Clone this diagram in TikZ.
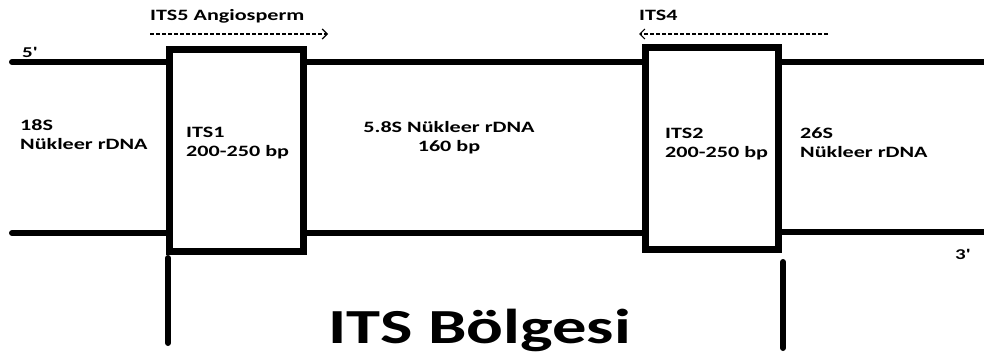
\documentclass[tikz,border=0pt]{standalone}
\usepackage{fontspec}
\setmainfont{Carlito}
\newfontfamily\widefont{Carlito}[FakeStretch=1.4]
\usetikzlibrary{arrows.meta}

\begin{document}
\begin{tikzpicture}[
    x=1pt, y=-1pt,
    region/.style={draw, rectangle, line width=7pt, inner sep=0pt},
    strand/.style={line width=6pt, line cap=round},
    bar/.style={line width=6pt, line cap=round},
    primer/.style={line width=1.2pt, dash pattern=on 4pt off 2pt, -{Straight Barb[length=5pt,width=10pt]}},
    lbl/.style={font=\widefont\bfseries\fontsize{15.8}{19}\selectfont, align=left, inner sep=0pt},
    ends/.style={font=\widefont\bfseries\fontsize{15}{17}\selectfont, inner sep=0pt},
    title/.style={font=\widefont\bfseries\fontsize{49}{55}\selectfont, inner sep=0pt}
]
\useasboundingbox (0,0) rectangle (984,361);

% ITS regions
\node[region, minimum width=134pt, minimum height=201pt] (its1) at (236,150.5) {};
\node[region, minimum width=133pt, minimum height=201pt] (its2) at (711.5,148.5) {};

% DNA strands
\coordinate (s5) at (12,62);
\coordinate (e5) at (984,62);
\coordinate (s3) at (12,233);
\coordinate (e3) at (984,232);
\draw[strand] (s5) -- (s5 -| its1.west);
\draw[strand] (its1.east |- s5) -- (its2.west |- s5);
\draw[strand] (its2.east |- e5) -- (e5);
\draw[strand] (s3) -- (s3 -| its1.west);
\draw[strand] (its1.east |- s3) -- (its2.west |- s3);
\draw[strand] (its2.east |- e3) -- (e3);

% Primers
\coordinate (p5a) at (150,34);
\coordinate (p5b) at (328,34);
\coordinate (p4a) at (828,34);
\coordinate (p4b) at (639,34);
\draw[primer] (p5a) -- (p5b);
\draw[primer] (p4a) -- (p4b);
\node[lbl, anchor=base west] (its5) at (150,21) {ITS5 Angiosperm};
\node[lbl, anchor=base west] (its4) at (639,21) {ITS4};

% Labels
\node[ends, anchor=base west] (five) at (22,57) {5'};
\node[ends, anchor=base west] (three) at (955,259) {3'};
\node[lbl, anchor=north west] (r18) at (20,119) {18S\\Nükleer rDNA};
\node[lbl, anchor=north west] (l1) at (186,127) {ITS1\\200-250 bp};
\node[lbl, anchor=north, align=center] (r58) at (449,121) {5.8S Nükleer rDNA\\160 bp};
\node[lbl, anchor=north west] (l2) at (665,128) {ITS2\\200-250 bp};
\node[lbl, anchor=north west] (r26) at (800,128) {26S\\Nükleer rDNA};

% ITS span
\coordinate (b1) at (168,258);
\coordinate (b1e) at (168,343);
\coordinate (b2) at (783,262);
\coordinate (b2e) at (783,348);
\draw[bar] (b1) -- (b1e);
\draw[bar] (b2) -- (b2e);
\node[title, anchor=base west] (span) at (328,343) {ITS Bölgesi};

\end{tikzpicture}
\end{document}
